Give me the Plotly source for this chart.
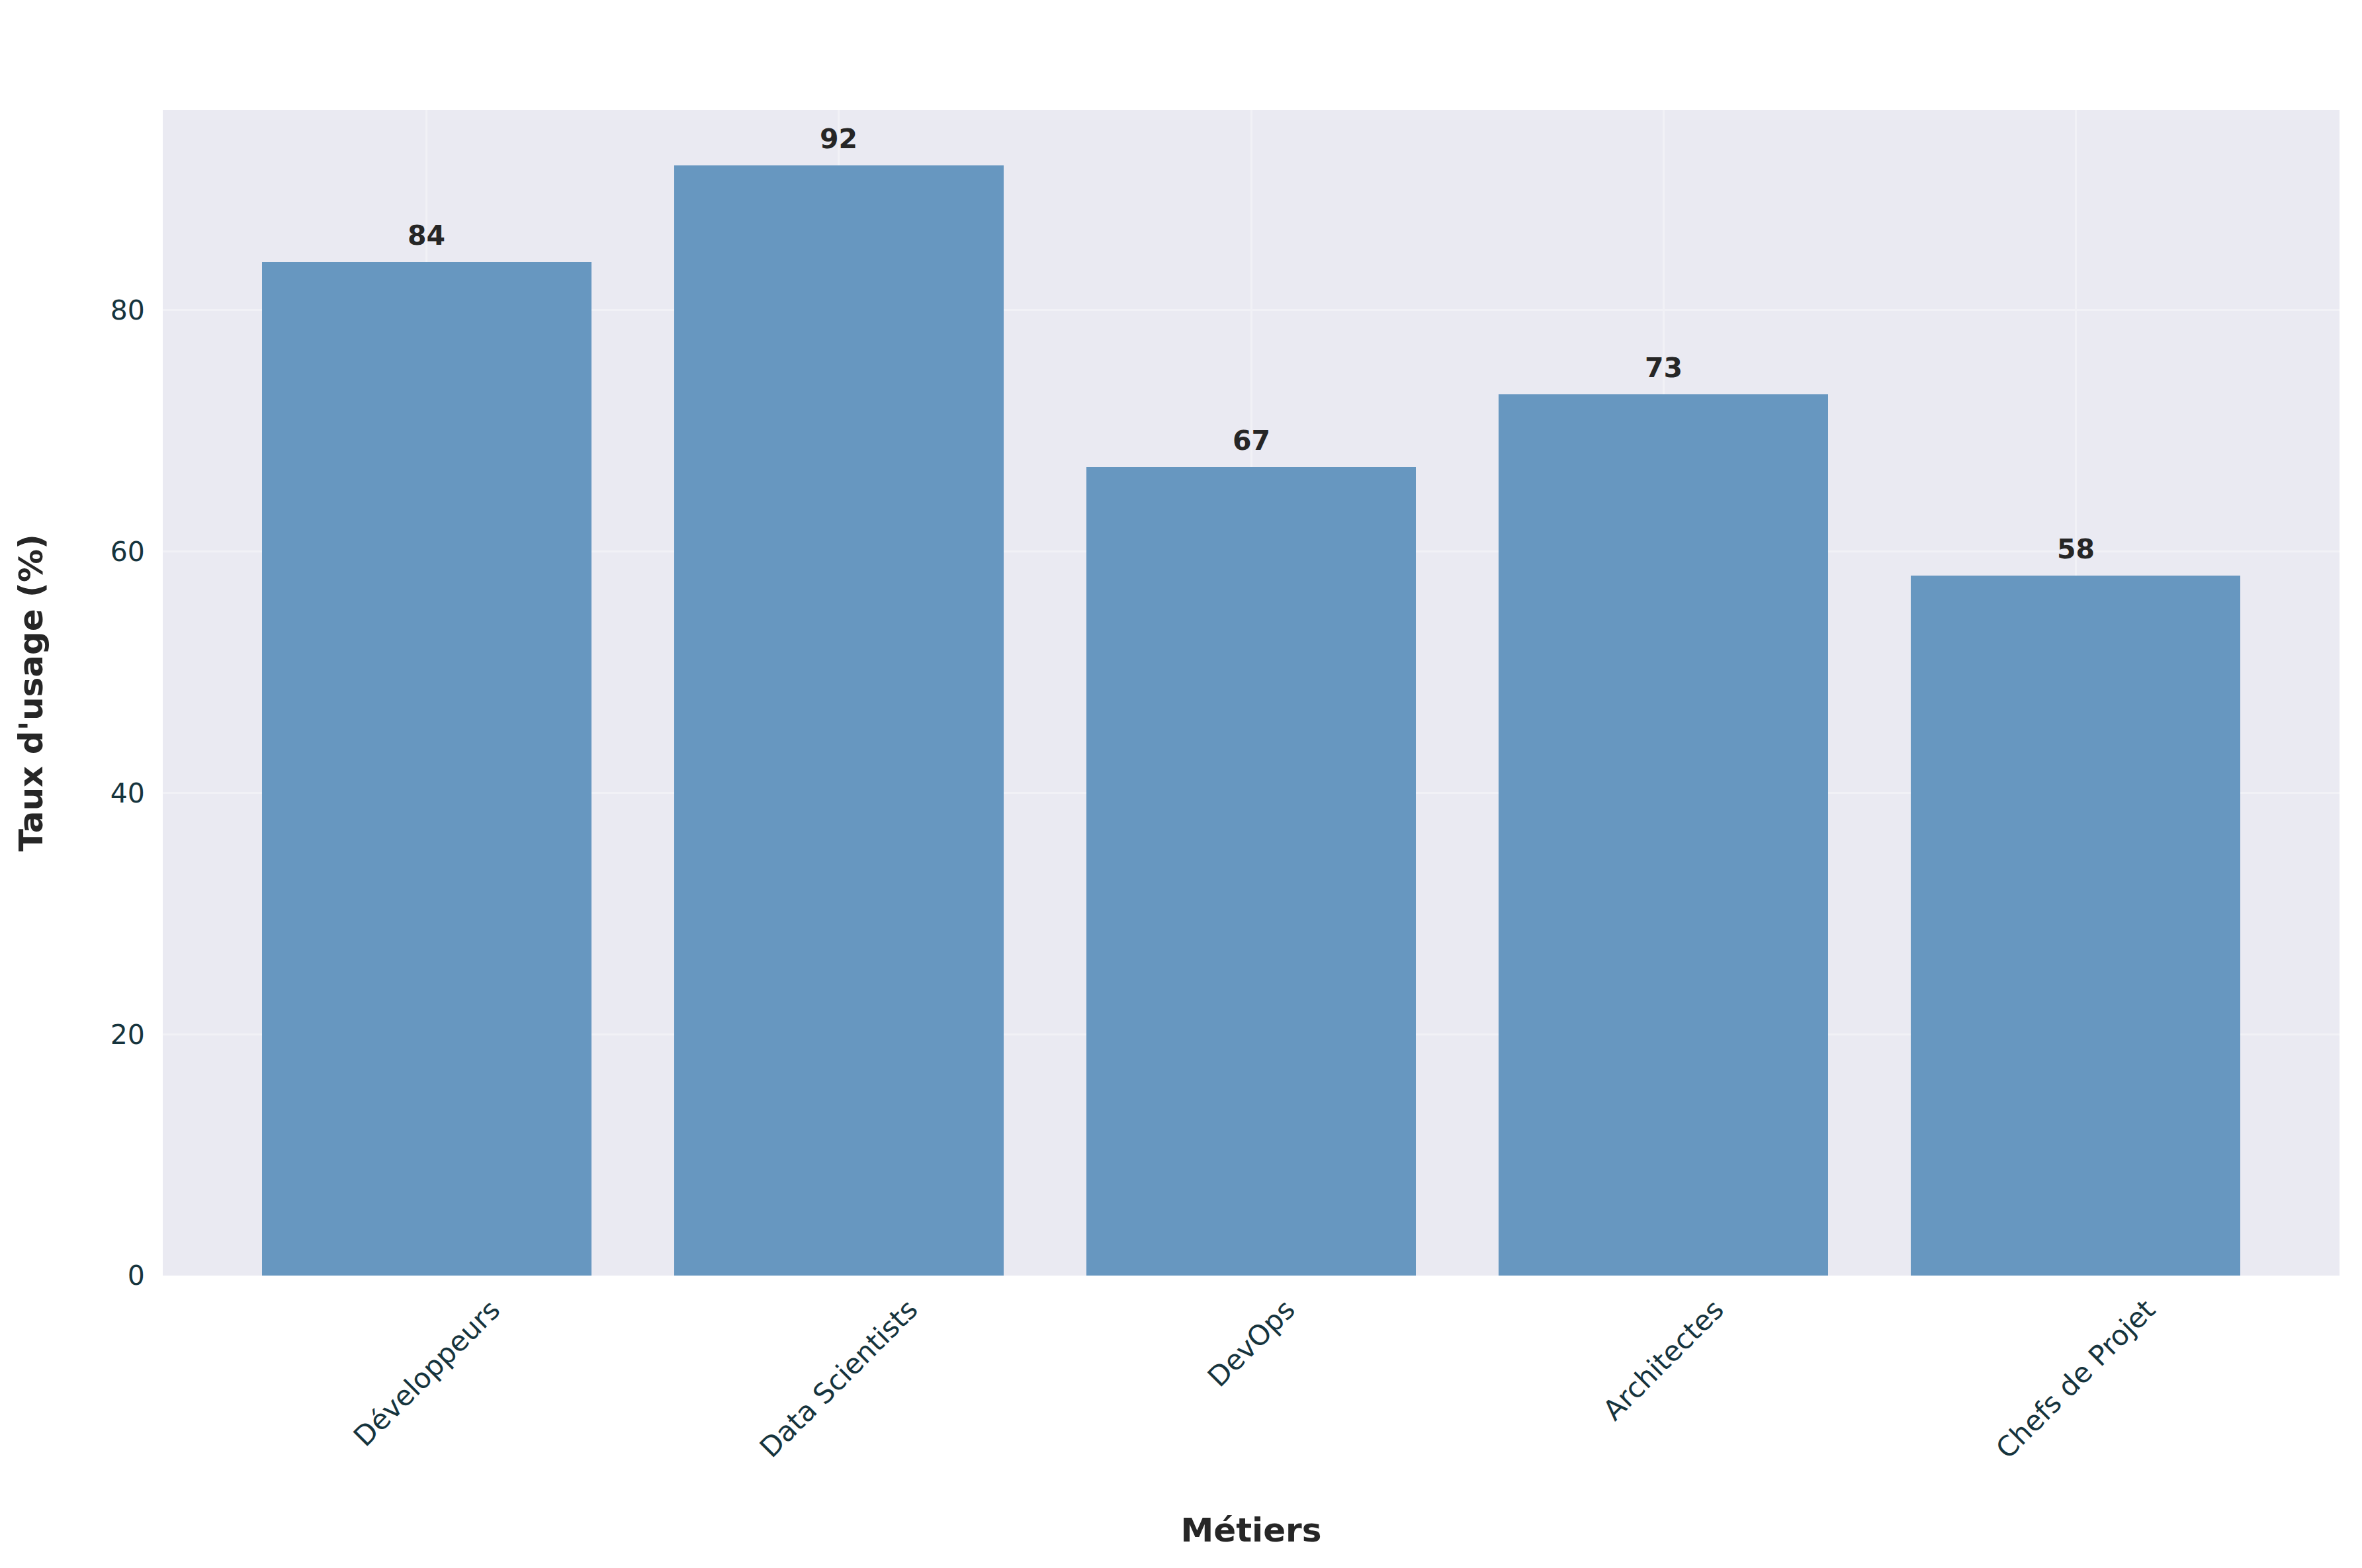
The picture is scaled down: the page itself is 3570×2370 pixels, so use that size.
import plotly.graph_objects as go

metiers = ["Développeurs", "Data Scientists", "DevOps", "Architectes", "Chefs de Projet"]
taux_usage = [84, 92, 67, 73, 58]
y_ticks = [0, 20, 40, 60, 80]

bar_color = "#6797c0"
tick_color = "#16343d"
label_color = "#262626"
font_family = "DejaVu Sans"

fig = go.Figure()
fig.add_trace(go.Bar(
    x=list(range(len(metiers))),
    y=taux_usage,
    width=0.8,
    marker=dict(color=bar_color, line=dict(width=0)),
    showlegend=False,
    hoverinfo="skip",
))

# valeurs au-dessus des barres
for i, v in enumerate(taux_usage):
    fig.add_annotation(
        x=i, y=v, xref="x", yref="y",
        text="<b>%d</b>" % v,
        showarrow=False,
        yanchor="bottom",
        yshift=14,
        font=dict(family=font_family, size=41, color=label_color),
    )

# étiquettes des catégories, tournées à 45° et centrées sous chaque barre
for i, name in enumerate(metiers):
    fig.add_annotation(
        x=i, y=0, xref="x", yref="paper",
        text=name,
        showarrow=False,
        textangle=-45,
        xanchor="center",
        yanchor="top",
        yshift=-24,
        font=dict(family=font_family, size=42, color=tick_color),
    )

fig.update_layout(
    width=3570,
    height=2370,
    margin=dict(l=238, r=42, t=158, b=450),
    paper_bgcolor="white",
    plot_bgcolor="#eaeaf2",
    font=dict(family=font_family, color=tick_color),
    bargap=0,
)

fig.update_xaxes(
    range=[-0.64, 4.64],
    tickmode="array",
    tickvals=list(range(len(metiers))),
    showticklabels=False,
    showgrid=True,
    gridcolor="#f1f1f6",
    gridwidth=3,
    zeroline=False,
    showline=False,
    title=dict(text="<b>Métiers</b>", standoff=366,
               font=dict(family=font_family, size=50, color=label_color)),
    automargin=False,
)
fig.update_yaxes(
    range=[0, 96.6],
    tickmode="array",
    tickvals=y_ticks,
    tickfont=dict(family=font_family, size=41, color=tick_color),
    ticks="outside",
    ticklen=18,
    tickcolor="rgba(0,0,0,0)",
    showgrid=True,
    gridcolor="#f1f1f6",
    gridwidth=3,
    zeroline=False,
    showline=False,
    title=dict(text="<b>Taux d'usage (%)</b>", standoff=86,
               font=dict(family=font_family, size=50, color=label_color)),
    automargin=False,
)

fig.write_html("out.html")
